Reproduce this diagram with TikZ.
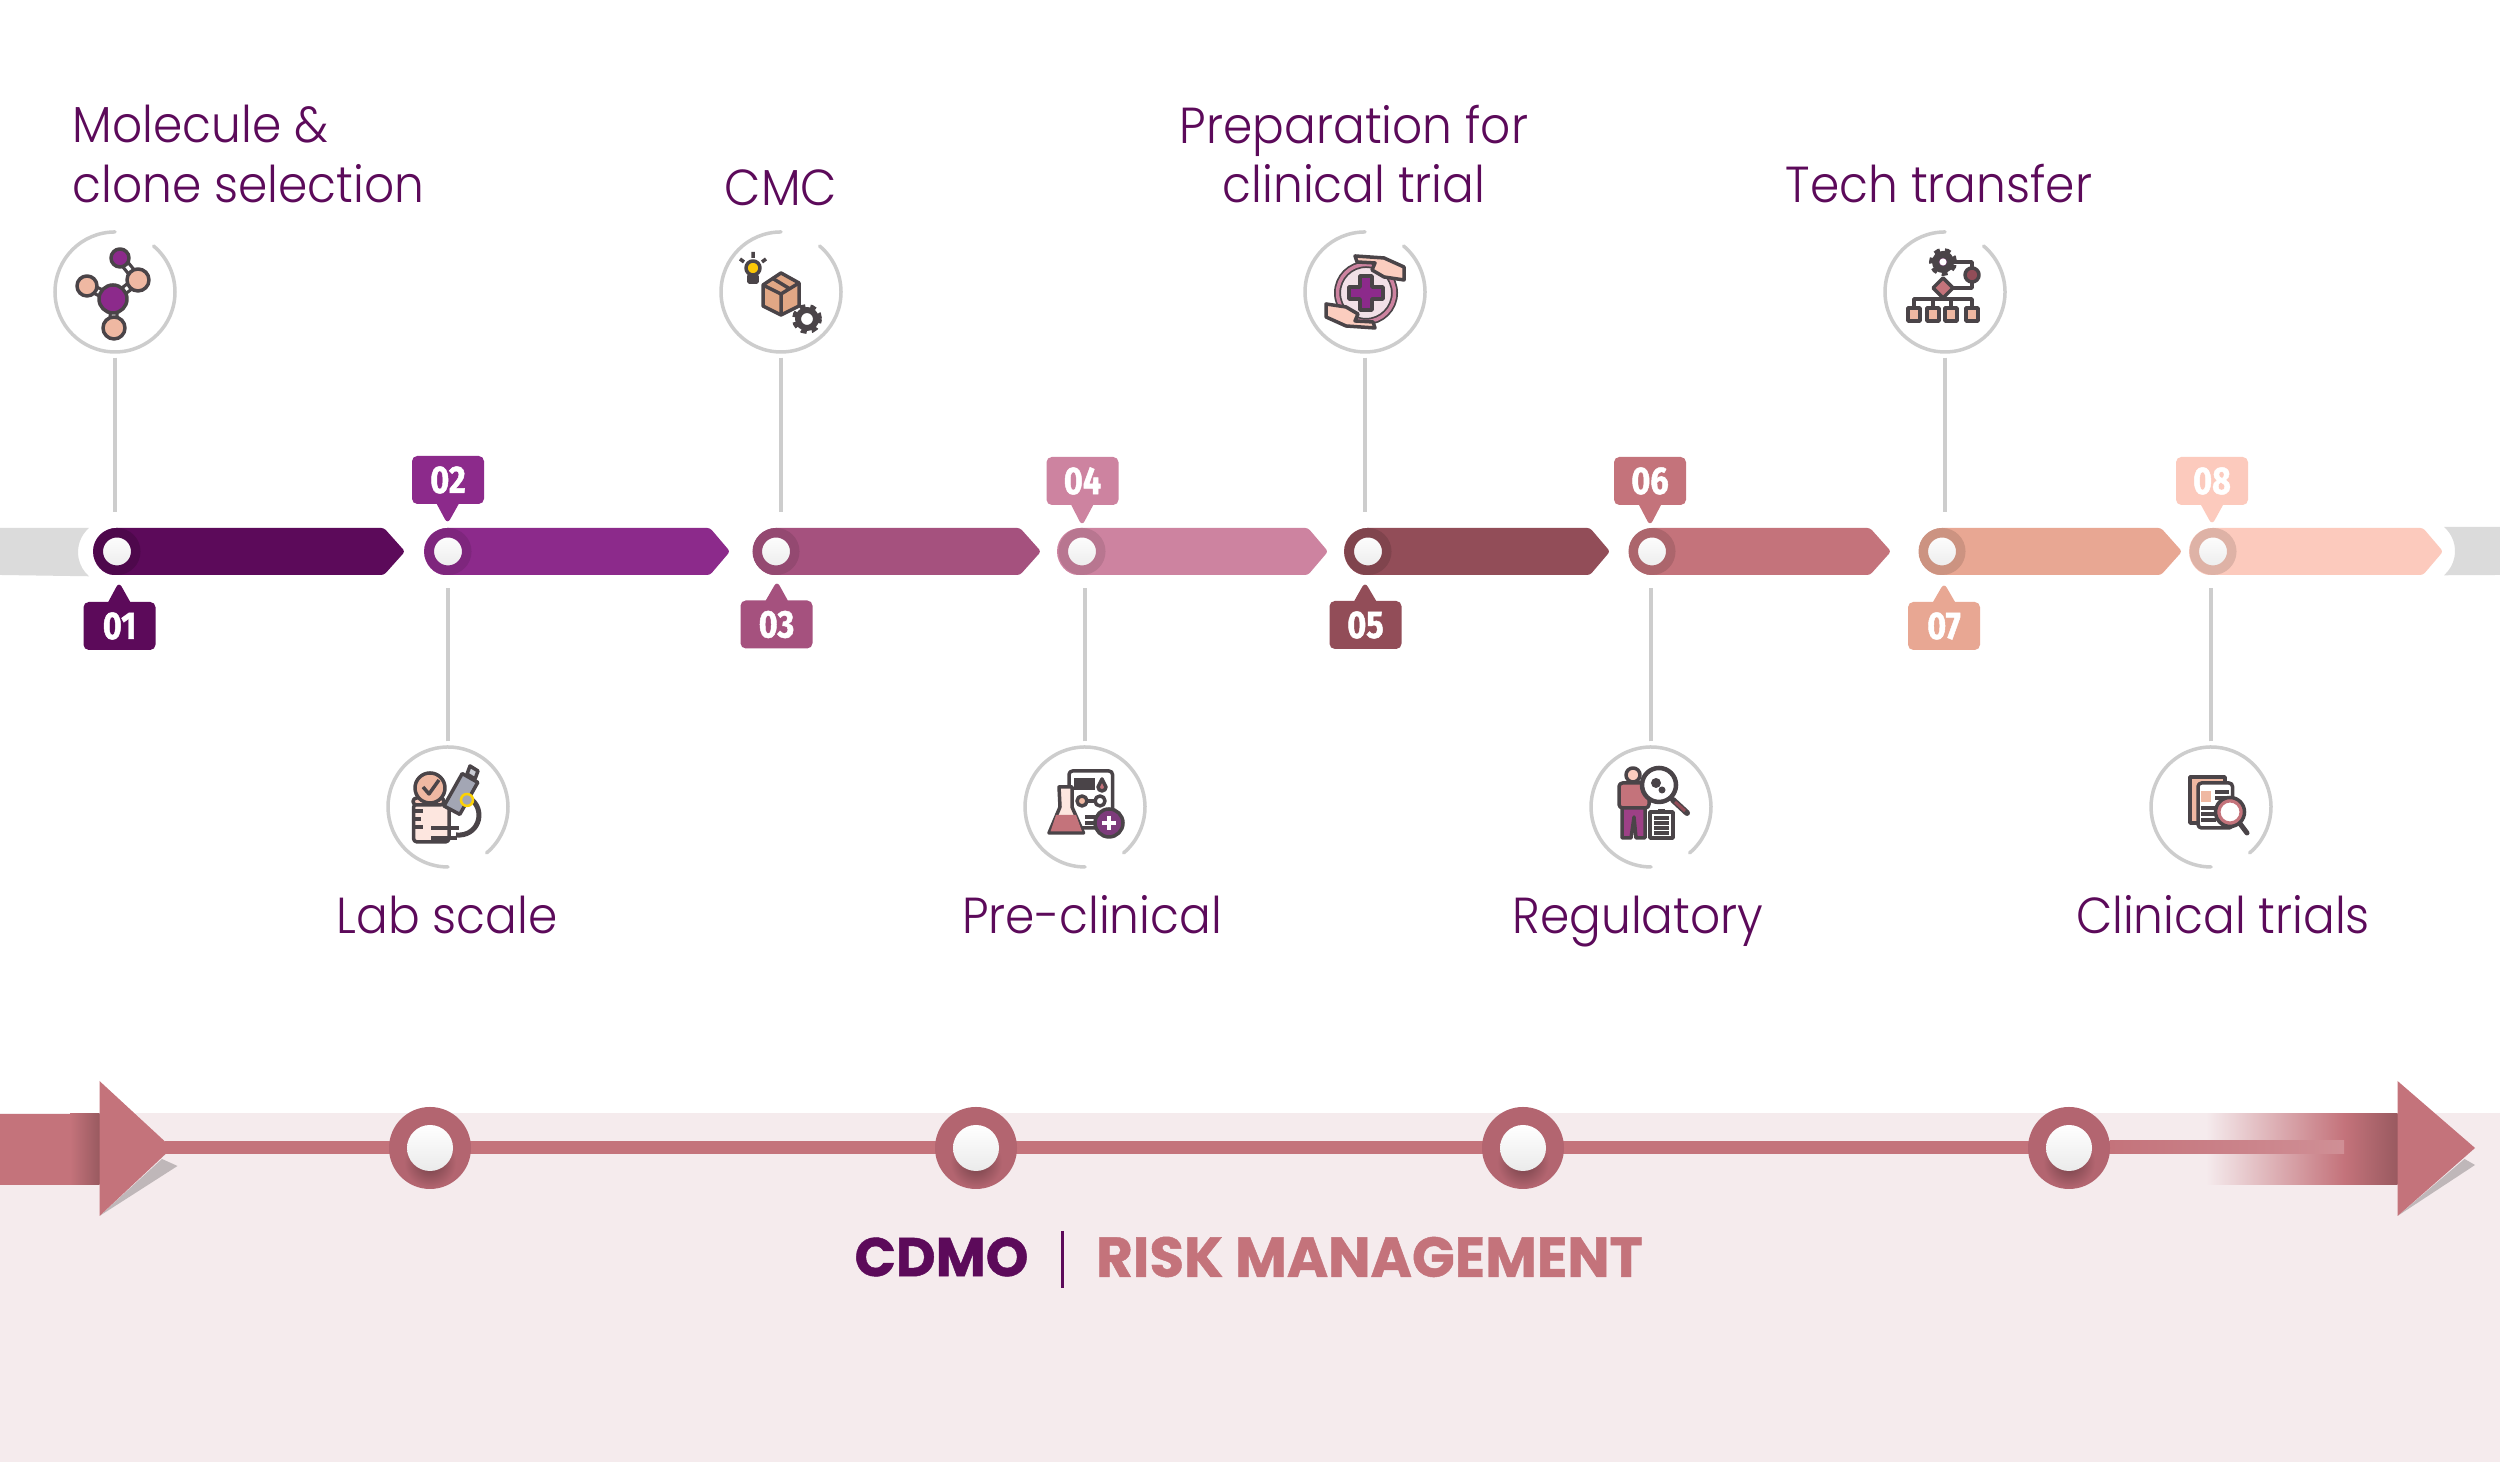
\documentclass[tikz,border=0pt]{standalone}
\usepackage{fontspec}
\setmainfont{Poppins}
\newfontfamily\stepfont[FakeStretch=0.93]{Poppins Light}
\newfontfamily\tagfont[FakeStretch=0.84,FakeBold=1.2]{Fira Sans}
\newfontfamily\capfont[FakeBold=0.8]{Poppins}
\usetikzlibrary{shapes.callouts,shapes.geometric}
\definecolor{plum}{HTML}{5C0A5A}
\definecolor{cTwo}{HTML}{8C2A8B}
\definecolor{cThree}{HTML}{A5517E}
\definecolor{cFour}{HTML}{CD83A0}
\definecolor{cFive}{HTML}{924D58}
\definecolor{cSix}{HTML}{C4737B}
\definecolor{cSeven}{HTML}{E8A793}
\definecolor{cEight}{HTML}{FCCABD}
\definecolor{endgrey}{HTML}{DBDBDB}
\definecolor{ringgrey}{HTML}{CDCDCD}
\definecolor{bandpink}{HTML}{F5EBED}
\definecolor{balldark}{HTML}{B36570}
\definecolor{icondark}{HTML}{4A4448}
\definecolor{peach}{HTML}{EFB8A2}
\definecolor{skin}{HTML}{FBCDBF}
\definecolor{tubegrey}{HTML}{A3A6B4}
\tikzset{
  ringspot/.style={circle, minimum size=1.3cm, inner sep=0},
  ringline/.style={draw=ringgrey, line width=0.035cm, line cap=round},
  stemline/.style={draw=ringgrey, line width=0.035cm},
  segbar/.style={rounded corners=0.8pt},
  knob/.style={circle, minimum size=0.375cm, inner sep=0, line width=0.095cm, top color=white, bottom color=black!8},
  tagbox/.style={rectangle callout, minimum width=0.72cm, minimum height=0.48cm, inner sep=0, rounded corners=1.5pt,
    callout pointer width=0.22cm, text=white, font=\tagfont\fontsize{11}{12}\selectfont\bfseries},
  steptext/.style={text=plum, align=center, inner sep=0, font=\stepfont\fontsize{14.4}{17}\selectfont},
  ball/.style={circle, minimum size=0.46cm, inner sep=0, top color=white, bottom color=black!8},
  ic/.style={draw=icondark, line width=0.035cm, line join=round},
}
\begin{document}
\begin{tikzpicture}
\useasboundingbox (0,0) rectangle (25,14.62);
\fill[white] (0,0) rectangle (25,14.62);
% band at the foot
\fill[bandpink] (0,0) rectangle (25,3.49);
% grey ends of the timeline
\fill[endgrey] (0,9.34) -- (0.89,9.34) arc[start angle=131,end angle=229,radius=0.32] -- (0,8.87) -- cycle;
\fill[endgrey] (25,9.35) -- (24.44,9.35) arc[start angle=49,end angle=-49,radius=0.32] -- (25,8.87) -- cycle;
% segments
\fill[plum, segbar] (1.165,9.34) -- (3.84,9.34) -- (4.05,9.105) -- (3.84,8.87) -- (1.165,8.87) arc[start angle=270,end angle=90,radius=0.235];
\fill[cTwo, segbar] (4.475,9.34) -- (7.10,9.34) -- (7.30,9.105) -- (7.10,8.87) -- (4.475,8.87) arc[start angle=270,end angle=90,radius=0.235];
\fill[cThree, segbar] (7.765,9.34) -- (10.20,9.34) -- (10.41,9.105) -- (10.20,8.87) -- (7.765,8.87) arc[start angle=270,end angle=90,radius=0.235];
\fill[cFour, segbar] (10.805,9.34) -- (13.08,9.34) -- (13.28,9.105) -- (13.08,8.87) -- (10.805,8.87) arc[start angle=270,end angle=90,radius=0.235];
\fill[cFive, segbar] (13.675,9.34) -- (15.90,9.34) -- (16.10,9.105) -- (15.90,8.87) -- (13.675,8.87) arc[start angle=270,end angle=90,radius=0.235];
\fill[cSix, segbar] (16.535,9.34) -- (18.70,9.34) -- (18.91,9.105) -- (18.70,8.87) -- (16.535,8.87) arc[start angle=270,end angle=90,radius=0.235];
\fill[cSeven, segbar] (19.425,9.34) -- (21.61,9.34) -- (21.82,9.105) -- (21.61,8.87) -- (19.425,8.87) arc[start angle=270,end angle=90,radius=0.235];
\fill[cEight, segbar] (22.125,9.34) -- (24.23,9.34) -- (24.43,9.105) -- (24.23,8.87) -- (22.125,8.87) arc[start angle=270,end angle=90,radius=0.235];
% knobs
\node[knob, draw=plum!85!black] (k1) at (1.17,9.105) {};
\node[knob, draw=cTwo!90!black] (k2) at (4.48,9.105) {};
\node[knob, draw=cThree!90!black] (k3) at (7.76,9.105) {};
\node[knob, draw=cFour!90!black] (k4) at (10.82,9.105) {};
\node[knob, draw=cFive!88!black] (k5) at (13.68,9.105) {};
\node[knob, draw=cSix!88!black] (k6) at (16.52,9.105) {};
\node[knob, draw=cSeven!88!black] (k7) at (19.42,9.105) {};
\node[knob, draw=cEight!88!black] (k8) at (22.13,9.105) {};
% number tags
\node[tagbox, fill=plum, callout absolute pointer={(1.19,8.80)}] (b1) at (1.195,8.36) {01};
\node[tagbox, fill=cTwo, callout absolute pointer={(4.475,9.38)}] (b2) at (4.48,9.82) {02};
\node[tagbox, fill=cThree, callout absolute pointer={(7.77,8.81)}] (b3) at (7.765,8.375) {03};
\node[tagbox, fill=cFour, callout absolute pointer={(10.82,9.36)}] (b4) at (10.825,9.81) {04};
\node[tagbox, fill=cFive, callout absolute pointer={(13.65,8.80)}] (b5) at (13.655,8.37) {05};
\node[tagbox, fill=cSix, callout absolute pointer={(16.50,9.36)}] (b6) at (16.50,9.81) {06};
\node[tagbox, fill=cSeven, callout absolute pointer={(19.44,8.79)}] (b7) at (19.44,8.36) {07};
\node[tagbox, fill=cEight, callout absolute pointer={(22.12,9.37)}] (b8) at (22.12,9.81) {08};
% rings round the icons
\node[ringspot] (ring1) at (1.15,11.70) {};
\node[ringspot] (ring2) at (4.48,6.55) {};
\node[ringspot] (ring3) at (7.81,11.70) {};
\node[ringspot] (ring4) at (10.85,6.55) {};
\node[ringspot] (ring5) at (13.65,11.70) {};
\node[ringspot] (ring6) at (16.51,6.55) {};
\node[ringspot] (ring7) at (19.45,11.70) {};
\node[ringspot] (ring8) at (22.11,6.55) {};
\draw[ringline] (ring1) ++(90:0.6) arc[start angle=90,end angle=410,radius=0.6];
\draw[ringline] (ring3) ++(90:0.6) arc[start angle=90,end angle=410,radius=0.6];
\draw[ringline] (ring5) ++(90:0.6) arc[start angle=90,end angle=410,radius=0.6];
\draw[ringline] (ring7) ++(90:0.6) arc[start angle=90,end angle=410,radius=0.6];
\draw[ringline] (ring2) ++(-50:0.6) arc[start angle=-50,end angle=270,radius=0.6];
\draw[ringline] (ring4) ++(-50:0.6) arc[start angle=-50,end angle=270,radius=0.6];
\draw[ringline] (ring6) ++(-50:0.6) arc[start angle=-50,end angle=270,radius=0.6];
\draw[ringline] (ring8) ++(-50:0.6) arc[start angle=-50,end angle=270,radius=0.6];
% stems
\draw[stemline, shorten >=0.39cm] (ring1) -- (ring1 |- k1);
\draw[stemline, shorten >=0.37cm] (ring2) -- (ring2 |- k2);
\draw[stemline, shorten >=0.39cm] (ring3) -- (ring3 |- k3);
\draw[stemline, shorten >=0.37cm] (ring4) -- (ring4 |- k4);
\draw[stemline, shorten >=0.39cm] (ring5) -- (ring5 |- k5);
\draw[stemline, shorten >=0.37cm] (ring6) -- (ring6 |- k6);
\draw[stemline, shorten >=0.39cm] (ring7) -- (ring7 |- k7);
\draw[stemline, shorten >=0.37cm] (ring8) -- (ring8 |- k8);
% step names
\node[steptext, anchor=west, align=left] (t1) at (0.72,13.08) {Molecule \&\\clone selection};
\node[steptext, anchor=base] (t2) at (4.47,5.28) {Lab scale};
\node[steptext, anchor=base] (t3) at (7.81,12.56) {CMC};
\node[steptext, anchor=base] (t4) at (10.92,5.28) {Pre-clinical};
\node[steptext] (t5) at (13.54,13.08) {Preparation for\\clinical trial};
\node[steptext, anchor=base] (t6) at (16.38,5.28) {Regulatory};
\node[steptext, anchor=base] (t7) at (19.39,12.59) {Tech transfer};
\node[steptext, anchor=base] (t8) at (22.23,5.28) {Clinical trials};
% molecule
\begin{scope}[shift={(1.15,11.70)}]
\draw[ic, line width=0.10cm] (-0.02,-0.07) -- (0.23,0.12) (-0.02,-0.07) -- (-0.28,0.06) (-0.02,-0.07) -- (-0.01,-0.36) (0.05,0.34) -- (0.23,0.12);
\draw[white, line width=0.035cm] (-0.02,-0.07) -- (0.23,0.12) (-0.02,-0.07) -- (-0.28,0.06) (-0.02,-0.07) -- (-0.01,-0.36) (0.05,0.34) -- (0.23,0.12);
\draw[ic, fill=cTwo] (-0.02,-0.07) circle (0.14);
\draw[ic, fill=cTwo] (0.05,0.34) circle (0.09);
\draw[ic, fill=peach] (0.23,0.12) circle (0.11);
\draw[ic, fill=peach] (-0.28,0.06) circle (0.10);
\draw[ic, fill=peach] (-0.01,-0.36) circle (0.11);
\end{scope}
% microscope
\begin{scope}[shift={(4.48,6.55)}]
\draw[ic, fill=skin!50, rounded corners=1pt] (-0.345,0.03) rectangle (0.01,-0.35);
\draw[ic, fill=skin, rounded corners=1pt] (-0.35,0.09) rectangle (-0.04,0.02);
\draw[ic] (-0.345,-0.04) -- (-0.25,-0.04) (-0.345,-0.12) -- (-0.27,-0.12) (-0.345,-0.20) -- (-0.25,-0.20);
\draw[ic, fill=peach] (-0.18,0.19) circle (0.15);
\draw[ic] (-0.25,0.20) -- (-0.19,0.13) -- (-0.09,0.27);
\draw[ic, line width=0.05cm] (0.24,0.07) .. controls (0.38,-0.05) and (0.30,-0.30) .. (0.08,-0.28);
\draw[ic, fill=tubegrey] (-0.04,0.01) -- (0.118,-0.074) -- (0.298,0.246) -- (0.142,0.334) -- cycle;
\draw[ic, fill=tubegrey!60] (0.19,0.33) -- (0.27,0.28) -- (0.30,0.36) -- (0.22,0.41) -- cycle;
\draw[draw=yellow!70!orange, fill=tubegrey, line width=0.025cm] (0.19,0.07) circle (0.06);
\draw[ic, line width=0.04cm] (-0.17,-0.21) -- (0.11,-0.21) (-0.17,-0.31) -- (0.09,-0.31);
\end{scope}
% box with bulb and gear
\begin{scope}[shift={(7.81,11.70)}]
\draw[ic, fill=peach!70!brown] (0,0.19) -- (0.18,0.09) -- (0.18,-0.14) -- (0,-0.23) -- (-0.18,-0.14) -- (-0.18,0.07) -- cycle;
\draw[ic] (-0.18,0.07) -- (0,-0.02) -- (0.18,0.09) (0,-0.02) -- (0,-0.23) (-0.09,0.14) -- (0.09,0.03);
\draw[ic, fill=yellow!60!orange] (-0.28,0.24) circle (0.07);
\draw[ic, fill=icondark] (-0.32,0.16) rectangle (-0.24,0.10);
\draw[ic] (-0.28,0.34) -- (-0.28,0.40) (-0.37,0.30) -- (-0.41,0.33) (-0.19,0.30) -- (-0.15,0.33);
\draw[icondark, line width=0.05cm, dash pattern=on 1.6pt off 1.4pt] (0.26,-0.27) circle (0.125);
\draw[ic, line width=0.06cm] (0.26,-0.27) circle (0.09);
\end{scope}
% flask and report
\begin{scope}[shift={(10.85,6.55)}]
\draw[ic, fill=white, rounded corners=1pt] (-0.16,0.36) rectangle (0.275,-0.21);
\draw[ic] (-0.11,0.27) -- (0.10,0.27) (-0.11,0.23) -- (0.10,0.23) (-0.11,0.19) -- (0.10,0.19);
\draw[ic, fill=cSix] (0.17,0.28) -- (0.21,0.20) arc[start angle=0,end angle=-180,radius=0.04] -- cycle;
\draw[ic] (-0.03,0.06) -- (0.15,0.06);
\draw[ic, fill=peach] (-0.03,0.06) circle (0.05);
\draw[ic, fill=white] (0.15,0.06) circle (0.05);
\draw[ic] (0,-0.10) -- (0.14,-0.10) (0,-0.16) -- (0.10,-0.16);
\draw[ic, fill=skin!50] (-0.26,0.20) -- (-0.13,0.20) -- (-0.13,0) -- (-0.015,-0.26) -- (-0.36,-0.26) -- (-0.25,0) -- cycle;
\fill[cSix] (-0.29,-0.08) -- (-0.09,-0.08) -- (-0.03,-0.245) -- (-0.345,-0.245) -- cycle;
\draw[ic, fill=plum!80] (0.24,-0.16) circle (0.14);
\draw[white, line width=0.04cm] (0.17,-0.16) -- (0.31,-0.16) (0.24,-0.09) -- (0.24,-0.23);
\end{scope}
% hands with cross
\begin{scope}[shift={(13.65,11.70)}]
\draw[fill=cFour!25, draw=icondark, line width=0.07cm] (0.01,-0.01) circle (0.285);
\draw[draw=cFour, line width=0.035cm] (0.01,-0.01) circle (0.285);
\draw[ic, fill=cTwo] (-0.05,0.16) -- (0.07,0.16) -- (0.07,0.05) -- (0.18,0.05) -- (0.18,-0.07) -- (0.07,-0.07) -- (0.07,-0.18) -- (-0.05,-0.18) -- (-0.05,-0.07) -- (-0.16,-0.07) -- (-0.16,0.05) -- (-0.05,0.05) -- cycle;
\draw[ic, fill=skin] (-0.10,0.36) -- (0.19,0.34) -- (0.39,0.25) -- (0.39,0.12) -- (0.19,0.15) -- (0.07,0.22) -- (0.10,0.29) -- (-0.08,0.30) -- cycle;
\draw[ic, fill=skin] (0.10,-0.36) -- (-0.19,-0.34) -- (-0.39,-0.25) -- (-0.39,-0.12) -- (-0.19,-0.15) -- (-0.07,-0.22) -- (-0.10,-0.29) -- (0.08,-0.30) -- cycle;
\end{scope}
% person with magnifier
\begin{scope}[shift={(16.51,6.55)}]
\draw[ic, fill=skin] (-0.18,0.32) circle (0.07);
\draw[ic, fill=cSix, rounded corners=1pt] (-0.32,0.24) rectangle (-0.02,-0.01);
\draw[ic, fill=cTwo!70!cSix] (-0.29,-0.01) -- (-0.06,-0.01) -- (-0.06,-0.31) -- (-0.15,-0.31) -- (-0.17,-0.10) -- (-0.20,-0.31) -- (-0.29,-0.31) -- cycle;
\draw[ic, line width=0.06cm, line cap=round] (0.22,0.07) -- (0.36,-0.06);
\draw[cFive, line width=0.03cm] (0.24,0.05) -- (0.34,-0.04);
\draw[ic, fill=white, line width=0.045cm] (0.08,0.22) circle (0.17);
\fill[icondark] (0.05,0.24) circle (0.05) (0.11,0.17) circle (0.035);
\draw[ic, fill=white] (-0.01,-0.05) rectangle (0.22,-0.31);
\fill[icondark] (0.07,-0.05) rectangle (0.14,-0.02);
\draw[ic] (0.03,-0.11) -- (0.18,-0.11) (0.03,-0.16) -- (0.18,-0.16) (0.03,-0.21) -- (0.18,-0.21) (0.03,-0.26) -- (0.18,-0.26);
\end{scope}
% org chart
\begin{scope}[shift={(19.45,11.70)}]
\draw[ic] (-0.02,0.30) -- (0.27,0.30) -- (0.27,0.04) -- (-0.02,0.04);
\draw[ic] (-0.02,0.04) -- (-0.02,-0.07) (-0.31,-0.16) -- (-0.31,-0.07) -- (0.27,-0.07) -- (0.27,-0.16) (-0.12,-0.07) -- (-0.12,-0.16) (0.06,-0.07) -- (0.06,-0.16);
\draw[icondark, line width=0.05cm, dash pattern=on 1.6pt off 1.4pt] (-0.02,0.30) circle (0.115);
\draw[draw=icondark, fill=plum!70, line width=0.07cm] (-0.02,0.30) circle (0.075);
\fill[white] (-0.02,0.30) circle (0.035);
\draw[ic, fill=cFive] (0.27,0.17) circle (0.07);
\draw[ic, fill=cSix] (-0.12,0.04) -- (-0.02,0.14) -- (0.08,0.04) -- (-0.02,-0.06) -- cycle;
\draw[ic, fill=peach] (-0.37,-0.16) rectangle (-0.25,-0.29);
\draw[ic, fill=peach] (-0.18,-0.16) rectangle (-0.06,-0.29);
\draw[ic, fill=peach] (0,-0.16) rectangle (0.12,-0.29);
\draw[ic, fill=peach] (0.21,-0.16) rectangle (0.33,-0.29);
\end{scope}
% documents with magnifier
\begin{scope}[shift={(22.11,6.55)}]
\draw[ic, fill=peach] (-0.21,0.30) rectangle (0.14,-0.16);
\draw[ic, fill=white, rounded corners=1pt] (-0.13,0.24) rectangle (0.215,-0.21);
\fill[peach] (-0.10,0.16) rectangle (0,0.05);
\draw[ic] (0.04,0.15) -- (0.18,0.15) (0.04,0.09) -- (0.18,0.09) (-0.10,-0.01) -- (0.08,-0.01) (-0.10,-0.07) -- (0.05,-0.07) (-0.10,-0.13) -- (0.05,-0.13);
\draw[ic, line width=0.05cm, line cap=round] (0.27,-0.14) -- (0.36,-0.26);
\draw[cSix, line width=0.05cm, fill=white] (0.19,-0.05) circle (0.12);
\draw[ic, fill=none] (0.19,-0.05) circle (0.145);
\end{scope}
% arrow along the band
\fill[cSix] (0,2.77) rectangle (0.70,3.48);
\shade[left color=cSix, right color=cSix!78!black] (0.70,2.77) rectangle (0.995,3.48);
\fill[black!22!bandpink] (0.995,2.46) -- (1.775,2.96) -- (1.62,3.03) -- cycle;
\fill[cSix] (0.995,3.81) -- (1.72,3.14) -- (0.995,2.46) -- cycle;
\coordinate (railstart) at (1.65,3.145);
\coordinate (railend) at (21.10,3.145);
\draw[cSix, line width=0.13cm] (railstart) -- (railend);
\shade[left color=bandpink, right color=cSix] (22.06,2.77) rectangle (23.44,3.48);
\shade[left color=cSix, right color=cSix!78!black] (23.44,2.77) rectangle (23.975,3.48);
\shade[left color=cSix, right color=cSix!80!white] (21.10,3.08) rectangle (23.44,3.21);
\fill[black!22!bandpink] (23.975,2.46) -- (24.75,2.97) -- (24.645,3.03) -- cycle;
\fill[cSix] (23.975,3.81) -- (24.75,3.14) -- (23.975,2.46) -- cycle;
% balls on the band
\fill[balldark] (4.30,3.14) circle (0.41);
\shade[inner color=balldark!62!black, outer color=balldark] (4.30,3.00) circle (0.26);
\node[ball] (m1) at (4.30,3.14) {};
\fill[balldark] (9.76,3.14) circle (0.41);
\shade[inner color=balldark!62!black, outer color=balldark] (9.76,3.00) circle (0.26);
\node[ball] (m2) at (9.76,3.14) {};
\fill[balldark] (15.23,3.14) circle (0.41);
\shade[inner color=balldark!62!black, outer color=balldark] (15.23,3.00) circle (0.26);
\node[ball] (m3) at (15.23,3.14) {};
\fill[balldark] (20.69,3.14) circle (0.41);
\shade[inner color=balldark!62!black, outer color=balldark] (20.69,3.00) circle (0.26);
\node[ball] (m4) at (20.69,3.14) {};
% caption
\node[text=plum, font=\capfont\fontsize{15.5}{18}\selectfont\bfseries, inner sep=0] (cdmo) at (9.415,2.05) {CDMO};
\coordinate (sep1) at (10.62,2.31);
\coordinate (sep2) at (10.62,1.74);
\draw[plum, line width=0.03cm] (sep1) -- (sep2);
\node[text=cSix, font=\capfont\fontsize{16}{18}\selectfont\bfseries, inner sep=0] (risk) at (13.695,2.05) {RISK MANAGEMENT};
\end{tikzpicture}
\end{document}
